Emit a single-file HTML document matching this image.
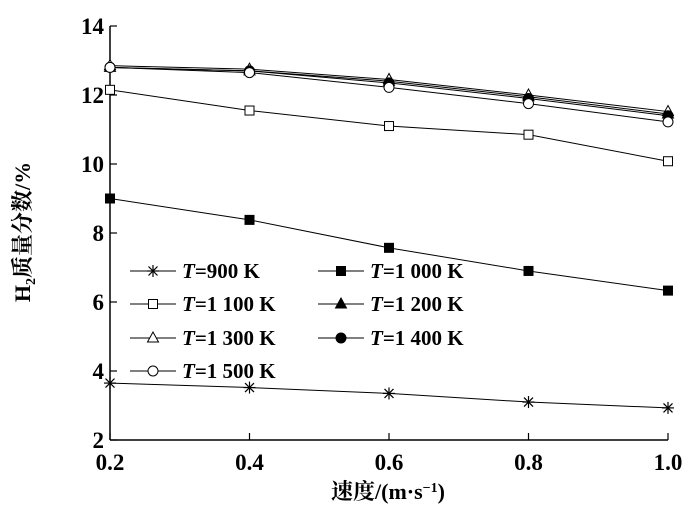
<!DOCTYPE html>
<html><head><meta charset="utf-8"><style>
html,body{margin:0;padding:0;background:#fff;}
svg text{font-family:"Liberation Serif","Noto Serif CJK SC",serif;fill:#000;}
</style></head><body>
<svg id="chart" width="700" height="511" xmlns="http://www.w3.org/2000/svg"></svg>
<script>
const xValues=[0.2,0.4,0.6,0.8,1.0];
const xTicks=["0.2","0.4","0.6","0.8","1.0"];
const yTicks=[2,4,6,8,10,12,14];
const t900=[3.65,3.52,3.35,3.1,2.93];
const t1000=[9.0,8.38,7.57,6.9,6.33];
const t1100=[12.15,11.55,11.1,10.85,10.08];
const t1200=[12.8,12.7,12.4,11.95,11.45];
const t1300=[12.85,12.75,12.45,12.0,11.52];
const t1400=[12.8,12.7,12.35,11.9,11.4];
const t1500=[12.8,12.65,12.22,11.75,11.22];
const seriesLabels=["=900 K","=1 000 K","=1 100 K","=1 200 K","=1 300 K","=1 400 K","=1 500 K"];
const NS="http://www.w3.org/2000/svg";
const svg=document.getElementById('chart');
const X0=110,X1=668,Y0=440,Y1=26;
const sx=v=>X0+(v-0.2)/(1.0-0.2)*(X1-X0);
const sy=v=>Y0-(v-2)/(14-2)*(Y0-Y1);
function mk(tag,a,parent){const e=document.createElementNS(NS,tag);for(const k in a)e.setAttribute(k,a[k]);(parent||svg).appendChild(e);return e;}
let e;
e=mk('line',{x1:X0,y1:Y0,x2:X1,y2:Y0,stroke:'#000','stroke-width':1.5});


e=mk('line',{x1:X0,y1:Y0,x2:X0,y2:Y1,stroke:'#000','stroke-width':1.5});


xValues.forEach((v,i)=>{
  mk('line',{x1:sx(v),y1:Y0,x2:sx(v),y2:Y0-7,stroke:'#000','stroke-width':1.2});
  e=mk('text',{x:sx(v),y:Y0+30,'text-anchor':'middle','font-size':23,'font-weight':'bold'});
  e.textContent=xTicks[i];
  
  
});
yTicks.forEach(v=>{
  mk('line',{x1:X0,y1:sy(v),x2:X0+7,y2:sy(v),stroke:'#000','stroke-width':1.2});
  e=mk('text',{x:X0-6,y:sy(v)+8,'text-anchor':'end','font-size':23,'font-weight':'bold'});
  e.textContent=v;
  
  
});
e=mk('text',{x:388,y:499,'text-anchor':'middle','font-size':22,'font-weight':'bold'});
e.innerHTML='速度/(m·s<tspan dy="-7" font-size="14">−1</tspan><tspan dy="7">)</tspan>';


e=mk('text',{transform:'translate(30,232) rotate(-90)','text-anchor':'middle','font-size':22,'font-weight':'bold'});
e.innerHTML='H<tspan dy="5" font-size="14">2</tspan><tspan dy="-5">质量分数/%</tspan>';


function marker(type,x,y,g){
  const r=6;
  if(type==='star'){
    [[-r,0,r,0],[0,-r,0,r],[-r*.75,-r*.75,r*.75,r*.75],[-r*.75,r*.75,r*.75,-r*.75]].forEach(l=>mk('line',{x1:x+l[0],y1:y+l[1],x2:x+l[2],y2:y+l[3],stroke:'#000','stroke-width':1.2},g));
  }else if(type==='sqf'||type==='sqo'){
    mk('rect',{x:x-4.5,y:y-4.5,width:9,height:9,fill:type==='sqf'?'#000':'#fff',stroke:'#000','stroke-width':1},g);
  }else if(type==='trf'||type==='tro'){
    mk('polygon',{points:`${x},${y-6} ${x-5.5},${y+4} ${x+5.5},${y+4}`,fill:type==='trf'?'#000':'#fff',stroke:'#000','stroke-width':1},g);
  }else{
    mk('circle',{cx:x,cy:y,r:5,fill:type==='cf'?'#000':'#fff',stroke:'#000','stroke-width':1},g);
  }
}
const allSeries=[t900,t1000,t1100,t1200,t1300,t1400,t1500];
const types=['star','sqf','sqo','trf','tro','cf','co'];
const names=['series-900k','series-1000k','series-1100k','series-1200k','series-1300k','series-1400k','series-1500k'];
allSeries.forEach((s,i)=>{
  const g=mk('g',{});
  
  
  mk('polyline',{points:s.map((v,j)=>sx(xValues[j])+','+sy(v)).join(' '),fill:'none',stroke:'#000','stroke-width':1},g);
  s.forEach((v,j)=>marker(types[i],sx(xValues[j]),sy(v),g));
});
const lg=mk('g',{});


const lpos=[[130,271],[318,271],[130,304],[318,304],[130,338],[318,338],[130,371]];
seriesLabels.forEach((lab,i)=>{
  const [lx,ly]=lpos[i];
  const g=mk('g',{},lg);
  
  
  mk('line',{x1:lx,y1:ly,x2:lx+46,y2:ly,stroke:'#000','stroke-width':1},g);
  marker(types[i],lx+23,ly,g);
  const t=mk('text',{x:lx+52,y:ly+7,'font-size':21,'font-weight':'bold'},g);
  t.innerHTML='<tspan font-style="italic">T</tspan>'+lab;
});
</script>
</body></html>
